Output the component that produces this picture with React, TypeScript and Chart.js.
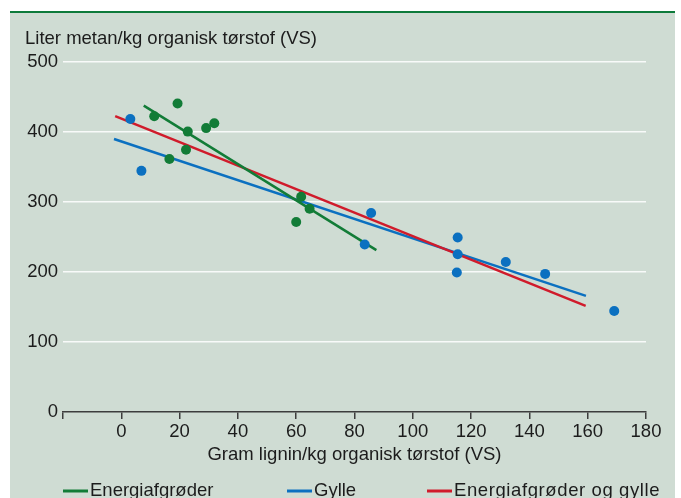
import { useEffect, useRef } from "react";
import { Chart, registerables } from "chart.js";

Chart.register(...registerables);

// ---- Data ----
const energiX = [11.3, 19.3, 22.8, 29.1, 31.9, 22.2, 16.5, 61.7, 64.6, 60.0];
const energiY = [422, 440, 400, 405, 412, 374, 361, 307, 290, 271];

const gylleX = [3.1, 6.9, 85.7, 83.5, 115.4, 115.4, 115.1, 131.9, 145.4, 169.1];
const gylleY = [418, 344, 284, 239, 249, 225, 199, 214, 197, 144];

// trend lines (start / end)
const energiLineX = [7.7, 87.5];
const energiLineY = [437, 231];
const gylleLineX = [-2.5, 159.4];
const gylleLineY = [389.5, 165.7];
const begeLineX = [-2.1, 159.3];
const begeLineY = [422, 151.4];

const legendLabels = ["Energiafgrøder", "Gylle", "Energiafgrøder og gylle"];
const yTitle = "Liter metan/kg organisk tørstof (VS)";
const xTitle = "Gram lignin/kg organisk tørstof (VS)";

const xMin = -20;
const xMax = 180;
const xStep = 20;
const yMin = 0;
const yMax = 500;
const yStep = 100;

const GREEN = "#127c37";
const BLUE = "#0b70c0";
const RED = "#d01b2b";
const TEXT = "#1c1c1c";
const AXIS = "#3d3d3d";
const FONT = "'Liberation Sans', Arial, Helvetica, sans-serif";
const FS = 18.5;

const pts = (xs: number[], ys: number[]) => xs.map((x, i) => ({ x, y: ys[i] }));

const decorPlugin = {
  id: "decor",
  afterDraw(chart: any) {
    const ctx = chart.ctx as CanvasRenderingContext2D;
    ctx.save();
    ctx.font = `${FS}px ${FONT}`;
    ctx.fillStyle = TEXT;
    ctx.textBaseline = "middle";
    ctx.textAlign = "left";
    ctx.fillText(yTitle, 25, 38.5);

    // legend
    const colors = [GREEN, BLUE, RED];
    const xs = [63, 287, 427];
    const spacing = ["0px", "0px", "0.6px"];
    const y = 491;
    legendLabels.forEach((label, i) => {
      ctx.strokeStyle = colors[i];
      ctx.lineWidth = 3;
      ctx.beginPath();
      ctx.moveTo(xs[i], y);
      ctx.lineTo(xs[i] + 25, y);
      ctx.stroke();
      ctx.fillStyle = TEXT;
      (ctx as any).letterSpacing = spacing[i];
      ctx.fillText(label, xs[i] + 27, y);
    });
    (ctx as any).letterSpacing = "0px";
    ctx.restore();
  },
};

export default function App() {
  const ref = useRef<HTMLCanvasElement | null>(null);

  useEffect(() => {
    if (!ref.current) return;
    Chart.defaults.font.family = FONT;
    Chart.defaults.font.size = FS;
    Chart.defaults.color = TEXT;

    const chart = new Chart(ref.current, {
      type: "scatter",
      data: {
        datasets: [
          {
            label: legendLabels[0] + " punkter",
            data: pts(energiX, energiY),
            backgroundColor: GREEN,
            borderWidth: 0,
            pointRadius: 5,
          },
          {
            label: legendLabels[1] + " punkter",
            data: pts(gylleX, gylleY),
            backgroundColor: BLUE,
            borderWidth: 0,
            pointRadius: 5,
          },
          {
            label: legendLabels[0],
            data: pts(energiLineX, energiLineY),
            showLine: true,
            borderColor: GREEN,
            borderWidth: 2.5,
            pointRadius: 0,
          },
          {
            label: legendLabels[2],
            data: pts(begeLineX, begeLineY),
            showLine: true,
            borderColor: RED,
            borderWidth: 2.5,
            pointRadius: 0,
          },
          {
            label: legendLabels[1],
            data: pts(gylleLineX, gylleLineY),
            showLine: true,
            borderColor: BLUE,
            borderWidth: 2.5,
            pointRadius: 0,
          },
        ],
      },
      options: {
        animation: false,
        responsive: false,
        maintainAspectRatio: false,
        devicePixelRatio: 1,
        events: [],
        layout: { padding: { top: 61.5, right: 35, bottom: 32, left: 0 } },
        plugins: {
          legend: { display: false },
          tooltip: { enabled: false },
          title: { display: false },
        },
        scales: {
          x: {
            type: "linear",
            min: xMin,
            max: xMax,
            afterFit: (s: any) => {
              s.height = 54;
            },
            ticks: {
              stepSize: xStep,
              autoSkip: false,
              maxRotation: 0,
              padding: 2,
              color: TEXT,
              callback: (v: any) => (Number(v) < 0 ? "" : String(v)),
            },
            grid: {
              drawOnChartArea: false,
              drawTicks: true,
              tickLength: 7,
              color: AXIS,
              lineWidth: 1.5,
            },
            border: { display: true, color: AXIS, width: 1.5 },
            title: {
              display: true,
              text: xTitle,
              color: TEXT,
              padding: { top: 0, bottom: 0 },
            },
          },
          y: {
            type: "linear",
            min: yMin,
            max: yMax,
            afterFit: (s: any) => {
              s.width = 63;
            },
            ticks: { stepSize: yStep, padding: 5, color: TEXT },
            grid: {
              drawTicks: false,
              lineWidth: 1.5,
              color: (c: any) =>
                c.tick && c.tick.value === 0 ? "rgba(0,0,0,0)" : "rgba(255,255,255,0.85)",
            },
            border: { display: false },
          },
        },
      },
      plugins: [decorPlugin],
    });
    return () => chart.destroy();
  }, []);

  return (
    <div
      style={{
        position: "fixed",
        left: 0,
        top: 0,
        width: 681,
        height: 498,
        background: "#ffffff",
        overflow: "hidden",
      }}
    >
      <div
        style={{
          position: "absolute",
          left: 10,
          top: 13,
          width: 665,
          height: 485,
          background: "#cfdcd3",
        }}
      />
      <div
        style={{
          position: "absolute",
          left: 10,
          top: 10.5,
          width: 665,
          height: 2.5,
          background: "#0d7a3a",
        }}
      />
      <canvas
        ref={ref}
        width={681}
        height={498}
        style={{ position: "absolute", left: 0, top: 0, width: 681, height: 498 }}
      />
    </div>
  );
}
